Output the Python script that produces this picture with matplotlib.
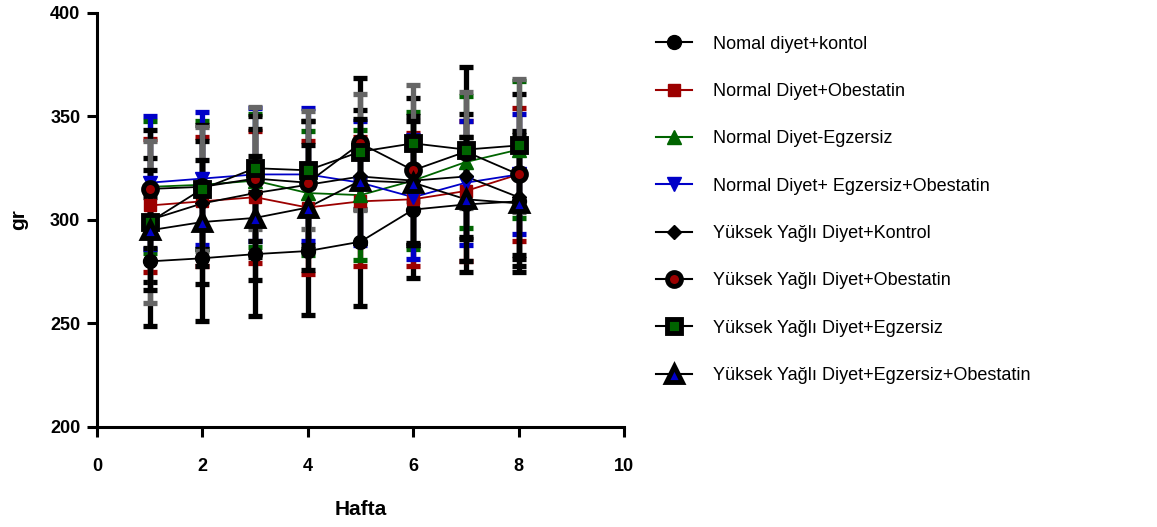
import matplotlib.pyplot as plt
from matplotlib.lines import Line2D

# Weekly body weight (g), mean and SD per group
weeks = [1, 2, 3, 4, 5, 6, 7, 8]

labels = [
    "Nomal diyet+kontol",
    "Normal Diyet+Obestatin",
    "Normal Diyet-Egzersiz",
    "Normal Diyet+ Egzersiz+Obestatin",
    "Yüksek Yağlı Diyet+Kontrol",
    "Yüksek Yağlı Diyet+Obestatin",
    "Yüksek Yağlı Diyet+Egzersiz",
    "Yüksek Yağlı Diyet+Egzersiz+Obestatin",
]

nd_kontrol = [280, 281.5, 283.5, 285, 289.5, 305, 307.5, 309]
nd_kontrol_sd = [31, 30.5, 30, 31, 31, 33, 32.5, 34]
nd_obestatin = [307, 309, 311, 306, 309, 310, 314, 322]
nd_obestatin_sd = [32, 31, 32, 32, 31, 32, 34, 32]
nd_egzersiz = [316, 317, 319, 313, 312, 319, 328, 334]
nd_egzersiz_sd = [32, 31, 32, 30, 31.5, 33, 32, 33]
nd_egz_obs = [318, 320, 322, 322, 318, 311, 318, 322]
nd_egz_obs_sd = [32, 32, 32, 32, 30, 30, 30, 29]
yy_kontrol = [300, 308, 313, 317, 321, 319, 321, 311]
yy_kontrol_sd = [30, 30, 31, 31, 32, 31, 30, 30]
yy_obestatin = [315, 316, 320, 318, 337, 324, 333, 322]
yy_obestatin_sd = [28.5, 30, 30, 30, 31.5, 35, 41, 39]
yy_egzersiz = [299, 315, 325, 324, 333, 337, 334, 336]
yy_egzersiz_sd = [39, 30, 29.5, 28.5, 28, 28, 28, 32]
yy_egz_obs = [295, 299, 301, 306, 319, 318, 310, 308]
yy_egz_obs_sd = [29, 30, 30, 30, 30, 30, 30, 30]

means = [nd_kontrol, nd_obestatin, nd_egzersiz, nd_egz_obs,
         yy_kontrol, yy_obestatin, yy_egzersiz, yy_egz_obs]
sds = [nd_kontrol_sd, nd_obestatin_sd, nd_egzersiz_sd, nd_egz_obs_sd,
       yy_kontrol_sd, yy_obestatin_sd, yy_egzersiz_sd, yy_egz_obs_sd]

RED, GREEN, BLUE = "#9c0000", "#006400", "#0000c8"

# line colour, marker, marker face, marker edge, marker size, edge width, bar colour
styles = [
    ("black", "o", "black", "black", 10, 1, "black"),
    (RED, "s", RED, RED, 9, 1, RED),
    (GREEN, "^", GREEN, GREEN, 10, 1, GREEN),
    (BLUE, "v", BLUE, BLUE, 10, 1, BLUE),
    ("black", "D", "black", "black", 7, 1, "black"),
    ("black", "o", RED, "black", 10, 3.5, "black"),
    ("black", "s", GREEN, "black", 10, 3.5, "#666666"),
    ("black", "^", BLUE, "black", 11, 3.5, "black"),
]

plt.rcParams["font.family"] = ["Liberation Sans", "DejaVu Sans"]

fig = plt.figure(figsize=(11.57, 5.27), dpi=100)
ax = fig.add_axes([0.0838, 0.1898, 0.4555, 0.7856])

handles = []
for i, (m, s, st) in enumerate(zip(means, sds, styles)):
    lc, mk, mfc, mec, ms, mew, bc = st
    ax.errorbar(weeks, m, yerr=s, fmt="none", ecolor=bc, elinewidth=3.8,
                capsize=5, capthick=3.8, zorder=2 + i * 0.1)
    ax.plot(weeks, m, color=lc, lw=1.3, zorder=3 + i * 0.1)
    ax.plot(weeks, m, ls="none", marker=mk, ms=ms, mfc=mfc, mec=mec,
            mew=mew, zorder=4 + i * 0.1)
    handles.append(Line2D([0], [0], color=lc, lw=1.5, marker=mk, ms=ms,
                          mfc=mfc, mec=mec, mew=mew))

ax.set_xlim(0, 10)
ax.set_ylim(200, 400)
ax.set_xticks(range(0, 11, 2))
ax.set_yticks(range(200, 401, 50))
ax.spines[["top", "right"]].set_visible(False)
for sp in ("left", "bottom"):
    ax.spines[sp].set_linewidth(2.2)
ax.tick_params(width=2.2, length=7, labelsize=13, direction="out")
ax.tick_params(axis="x", pad=15)
ax.tick_params(axis="y", pad=5)
for lab in ax.get_xticklabels() + ax.get_yticklabels():
    lab.set_fontweight("bold")

ax.set_xlabel("Hafta", fontsize=15, fontweight="bold", labelpad=18)
ax.set_ylabel("gr", fontsize=15, fontweight="bold", labelpad=16)

fig.legend(handles, labels, loc="upper left", bbox_to_anchor=(0.553, 0.963),
           frameon=False, fontsize=13, handlelength=2.0, handletextpad=1.15,
           labelspacing=1.68)

plt.savefig("out.png", dpi=100)
